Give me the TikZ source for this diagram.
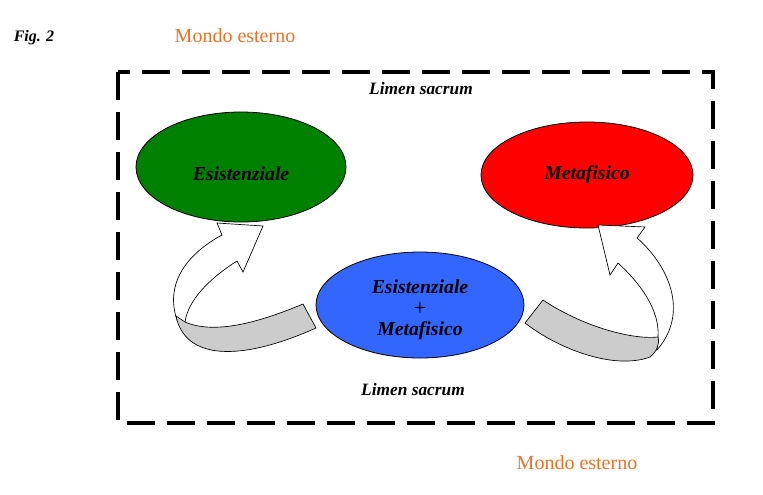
\documentclass[tikz,border=0pt]{standalone}
\usepackage{fontspec}
\setmainfont{Liberation Serif}
\definecolor{mondo}{RGB}{240,112,36}
\definecolor{verde}{RGB}{0,128,0}
\definecolor{rosso}{RGB}{255,0,0}
\definecolor{blu}{RGB}{51,102,255}
\definecolor{grigio}{RGB}{204,204,204}
\begin{document}
\begin{tikzpicture}[x=0.75pt,y=-0.75pt,
  lbl/.style={font=\fontsize{14.8}{17}\selectfont\bfseries\itshape,text=black,align=center},
  limen/.style={font=\fontsize{13}{15}\selectfont\bfseries\itshape,anchor=base},
  mondo/.style={font=\fontsize{15}{18}\selectfont,text=mondo},
  border/.style={line width=2.5pt,dash pattern=on 21pt off 9pt},
  arrw/.style={draw=black,line width=0.5pt,fill=white,line join=miter},
  band/.style={draw=black,line width=0.5pt,fill=grigio}]
\useasboundingbox (0,0) rectangle (763,494);
\fill[white] (0,0) rectangle (763,494);
% frame
\draw[border] (118,72) rectangle (713,423);
% texts outside
\node[font=\fontsize{12}{14}\selectfont\bfseries\itshape] (fig) at (34,38) {Fig. 2};
\node[mondo] (m1) at (235,36) {Mondo esterno};
\node[mondo] (m2) at (577,463) {Mondo esterno};
\node[limen] (l1) at (421,94) {Limen sacrum};
\node[limen] (l2) at (413,395) {Limen sacrum};
% ellipses
\draw[line width=0.6pt,fill=verde] (241,167) ellipse [x radius=105, y radius=55];
\draw[line width=0.6pt,fill=rosso] (587,175) ellipse [x radius=106, y radius=53];
\draw[line width=0.6pt,fill=blu] (420,305) ellipse [x radius=104, y radius=53];
\node[lbl] (es) at (241,174) {Esistenziale};
\node[lbl] (me) at (587,175) {Metafisico};
\node[lbl] (em1) at (420,287) {Esistenziale};
\node[font=\fontsize{17}{19}\selectfont] (plus) at (420,309) {+};
\node[lbl] (em2) at (420,331) {Metafisico};
% left curved arrow
\draw[arrw] (177,320) .. controls (165,285) and (185,255) .. (222,235)
  -- (217,223) -- (263,226) -- (243,272) -- (237,261)
  .. controls (210,278) and (188,300) .. (185,322) -- cycle;
\draw[band] (303,304) .. controls (260,322) and (215,335) .. (185,322)
  -- (176,316) .. controls (185,360) and (240,362) .. (316,328) -- cycle;
% right curved arrow
\draw[arrw] (658,337) .. controls (660,310) and (640,283) .. (618,263)
  -- (610,275) -- (598,225) -- (645,227) -- (637,238)
  .. controls (668,265) and (690,312) .. (657,350) -- cycle;
\draw[band] (543,300) .. controls (580,325) and (630,340) .. (658,337)
  .. controls (660,345) and (656,352) .. (650,357)
  .. controls (615,370) and (560,350) .. (525,323) -- cycle;
\end{tikzpicture}
\end{document}
